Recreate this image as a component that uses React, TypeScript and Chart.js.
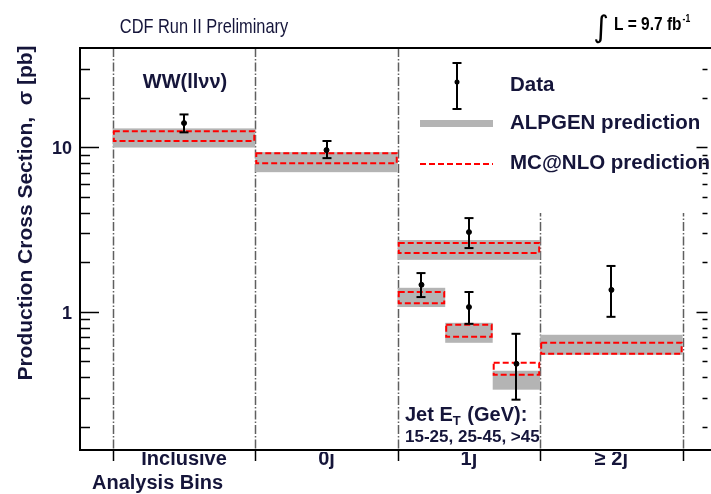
import { useEffect, useRef } from "react";
import { Chart, registerables } from "chart.js";

Chart.register(...registerables);

// ---------------- data ----------------
const categories = ["Inclusive", "0j", "1j", "≥ 2j"];
const categoryEdges = [0, 1, 2, 3, 4];

// analysis bins (x in category units): Inclusive, 0j, 1j, 1j(15-25), 1j(25-45), 1j(>45), >=2j
const binNames = ["Inclusive", "0j", "1j", "1j 15-25", "1j 25-45", "1j >45", "≥2j"];
const binLo = [0, 1, 2, 2, 7 / 3, 8 / 3, 3];
const binHi = [1, 2, 3, 7 / 3, 8 / 3, 3, 4];

const dataVal = [14.0, 9.6, 3.05, 1.46, 1.07, 0.484, 1.36];
const dataUp = [15.8, 10.9, 3.71, 1.72, 1.32, 0.736, 1.9];
const dataDown = [12.3, 8.58, 2.44, 1.23, 0.846, 0.293, 0.933];

const alpgenHi = [13.0, 9.33, 2.73, 1.4, 0.858, 0.439, 0.726];
const alpgenLo = [9.95, 7.05, 2.07, 1.07, 0.649, 0.337, 0.549];

const mcnloHi = [12.5, 9.2, 2.62, 1.32, 0.834, 0.491, 0.649];
const mcnloLo = [10.9, 8.0, 2.28, 1.13, 0.706, 0.415, 0.556];

const yMajorTicks = [1, 10];
const yTickLabels = ["1", "10"];
const yMin = 0.145;
const yMax = 40;
const xMin = -0.2304;
const xMax = 4.1745;

// ---------------- drawing ----------------
const INK = "#15153a";
const BOLD = (px: number) => `bold ${px}px "Liberation Sans", Arial, sans-serif`;
const REG = (px: number) => `${px}px "Liberation Sans", Arial, sans-serif`;

function text(
  ctx: CanvasRenderingContext2D,
  s: string,
  x: number,
  y: number,
  font: string,
  align: CanvasTextAlign = "left",
  baseline: CanvasTextBaseline = "alphabetic",
  color = INK,
  sx = 1
) {
  ctx.save();
  ctx.font = font;
  ctx.textAlign = align;
  ctx.textBaseline = baseline;
  ctx.fillStyle = color;
  ctx.translate(x, y);
  ctx.scale(sx, 1);
  ctx.fillText(s, 0, 0);
  ctx.restore();
}

function line(ctx: CanvasRenderingContext2D, x0: number, y0: number, x1: number, y1: number) {
  ctx.beginPath();
  ctx.moveTo(x0, y0);
  ctx.lineTo(x1, y1);
  ctx.stroke();
}

function errorBar(ctx: CanvasRenderingContext2D, px: number, top: number, bot: number) {
  ctx.strokeStyle = "#000";
  ctx.lineWidth = 2;
  ctx.setLineDash([]);
  line(ctx, px, top, px, bot);
  line(ctx, px - 4.5, top, px + 4.5, top);
  line(ctx, px - 4.5, bot, px + 4.5, bot);
}

const cdfPlugin = {
  id: "cdfPlugin",
  beforeDatasetsDraw(chart: any) {
    const { ctx, chartArea: a, scales } = chart;
    const x = scales.x;
    const y = scales.y;
    ctx.save();
    // dash-dot bin separators
    ctx.strokeStyle = "#5f5f5f";
    ctx.lineWidth = 1.5;
    ctx.setLineDash([9, 2, 1.5, 2]);
    categoryEdges.forEach((v) => {
      const px = Math.round(x.getPixelForValue(v)) + 0.5;
      line(ctx, px, a.top, px, a.bottom);
    });
    ctx.setLineDash([]);
    // legend background
    ctx.fillStyle = "#ffffff";
    ctx.fillRect(403, a.top + 1, a.right - 403, 212 - a.top);

    // ALPGEN bands
    ctx.fillStyle = "#b4b4b4";
    binLo.forEach((lo, i) => {
      const x0 = x.getPixelForValue(lo);
      const x1 = x.getPixelForValue(binHi[i]);
      const y0 = y.getPixelForValue(alpgenHi[i]);
      const y1 = y.getPixelForValue(alpgenLo[i]);
      ctx.fillRect(x0, y0, x1 - x0, y1 - y0);
    });
    // MC@NLO dashed boxes
    ctx.strokeStyle = "#ff0000";
    ctx.lineWidth = 2;
    ctx.setLineDash([6, 3]);
    binLo.forEach((lo, i) => {
      const x0 = x.getPixelForValue(lo) + 1;
      const x1 = x.getPixelForValue(binHi[i]) - 1;
      const y0 = y.getPixelForValue(mcnloHi[i]);
      const y1 = y.getPixelForValue(mcnloLo[i]);
      ctx.strokeRect(x0, y0, x1 - x0, y1 - y0);
    });
    ctx.setLineDash([]);
    // data error bars
    binLo.forEach((lo, i) => {
      const px = Math.round(x.getPixelForValue((lo + binHi[i]) / 2));
      errorBar(ctx, px, y.getPixelForValue(dataUp[i]), y.getPixelForValue(dataDown[i]));
    });
    ctx.restore();
  },
  afterDraw(chart: any) {
    const { ctx, chartArea: a, scales } = chart;
    const x = scales.x;
    const y = scales.y;
    ctx.save();
    ctx.setLineDash([]);
    // frame
    ctx.strokeStyle = "#000";
    ctx.lineWidth = 2;
    ctx.beginPath();
    ctx.moveTo(a.right + 5, a.top);
    ctx.lineTo(a.left, a.top);
    ctx.lineTo(a.left, a.bottom);
    ctx.lineTo(a.right + 5, a.bottom);
    ctx.stroke();

    // y ticks (log)
    ctx.lineWidth = 1.5;
    for (let d = -1; d <= 1; d++) {
      for (let m = 1; m <= 9; m++) {
        const v = m * Math.pow(10, d);
        if (v < yMin || v > yMax * 0.999) continue;
        const py = Math.round(y.getPixelForValue(v)) + 0.5;
        const major = yMajorTicks.includes(v);
        line(ctx, a.left, py, a.left + (major ? 19 : 10), py);
        line(ctx, a.right - (major ? 11 : 5), py, a.right, py);
      }
    }
    yMajorTicks.forEach((v, i) => {
      text(ctx, yTickLabels[i], 72, y.getPixelForValue(v) + 2, BOLD(18), "right", "middle");
    });

    // x ticks
    categoryEdges.forEach((v) => {
      const px = Math.round(x.getPixelForValue(v)) + 0.5;
      line(ctx, px, a.bottom, px, a.bottom + 11);
    });
    ctx.save();
    ctx.beginPath();
    ctx.rect(0, a.bottom + 2, chart.width, chart.height);
    ctx.clip();
    categories.forEach((c, i) => {
      const px = x.getPixelForValue((categoryEdges[i] + categoryEdges[i + 1]) / 2);
      text(ctx, c, px, a.bottom + 15, BOLD(20), "center");
    });
    ctx.restore();
    text(ctx, "Analysis Bins", 92, 489, BOLD(20));

    // y title
    ctx.save();
    ctx.translate(32, 213);
    ctx.rotate(-Math.PI / 2);
    text(ctx, "Production Cross Section,  σ [pb]", 0, 0, BOLD(21), "center");
    ctx.restore();

    // header
    text(ctx, "CDF Run II Preliminary", 204, 33, REG(21), "center", "alphabetic", INK, 0.78);
    text(ctx, "∫", 601, 37, `30px "DejaVu Sans", sans-serif`, "center", "alphabetic", "#000");
    const lumSx = 0.86;
    text(ctx, "L = 9.7 fb", 614, 30, BOLD(18), "left", "alphabetic", "#000", lumSx);
    ctx.font = BOLD(18);
    const w = ctx.measureText("L = 9.7 fb").width * lumSx;
    text(ctx, "-1", 614 + w + 1, 22, BOLD(10), "left", "alphabetic", "#000", 0.86);

    // process label
    text(ctx, "WW(llνν)", 185, 88, BOLD(20), "center");

    // jet ET note
    let cx = 405;
    text(ctx, "Jet E", cx, 421, BOLD(20));
    ctx.font = BOLD(20);
    cx += ctx.measureText("Jet E").width;
    text(ctx, "T", cx, 425, BOLD(13));
    ctx.font = BOLD(13);
    cx += ctx.measureText("T").width + 1;
    text(ctx, " (GeV):", cx, 421, BOLD(20));
    text(ctx, "15-25, 25-45, >45", 405, 442, BOLD(17));

    // legend
    errorBar(ctx, 457, 63, 109);
    ctx.fillStyle = "#000";
    ctx.beginPath();
    ctx.arc(457, 82, 2.5, 0, Math.PI * 2);
    ctx.fill();
    text(ctx, "Data", 510, 91, BOLD(20.5));
    ctx.fillStyle = "#b4b4b4";
    ctx.fillRect(420, 120, 73, 7);
    text(ctx, "ALPGEN prediction", 510, 129, BOLD(20.5));
    ctx.strokeStyle = "#ff0000";
    ctx.lineWidth = 2;
    ctx.setLineDash([6, 3]);
    line(ctx, 420, 164, 493, 164);
    ctx.setLineDash([]);
    text(ctx, "MC@NLO prediction", 510, 169, BOLD(20.5));
    ctx.restore();
  },
};

export default function App() {
  const ref = useRef<HTMLCanvasElement | null>(null);
  useEffect(() => {
    document.body.style.margin = "0";
    const canvas = ref.current;
    if (!canvas) return;
    const chart = new Chart(canvas, {
      type: "scatter",
      data: {
        datasets: [
          {
            label: "Data",
            data: binLo.map((lo, i) => ({ x: (lo + binHi[i]) / 2, y: dataVal[i] })),
            backgroundColor: "#000",
            borderColor: "#000",
            pointRadius: 2.5,
            pointHoverRadius: 2.5,
          },
        ],
      },
      options: {
        animation: false,
        responsive: false,
        devicePixelRatio: 1,
        layout: { padding: { left: 80, top: 48, right: 0, bottom: 44 } },
        plugins: { legend: { display: false }, tooltip: { enabled: false }, title: { display: false } },
        events: [],
        scales: {
          x: { type: "linear", min: xMin, max: xMax, display: false },
          y: { type: "logarithmic", min: yMin, max: yMax, display: false },
        },
      },
      plugins: [cdfPlugin],
    });
    return () => chart.destroy();
  }, []);
  return (
    <div style={{ position: "absolute", left: 0, top: 0, width: 711, height: 494, background: "#fff" }}>
      <canvas ref={ref} width={711} height={494} style={{ display: "block" }} />
    </div>
  );
}
